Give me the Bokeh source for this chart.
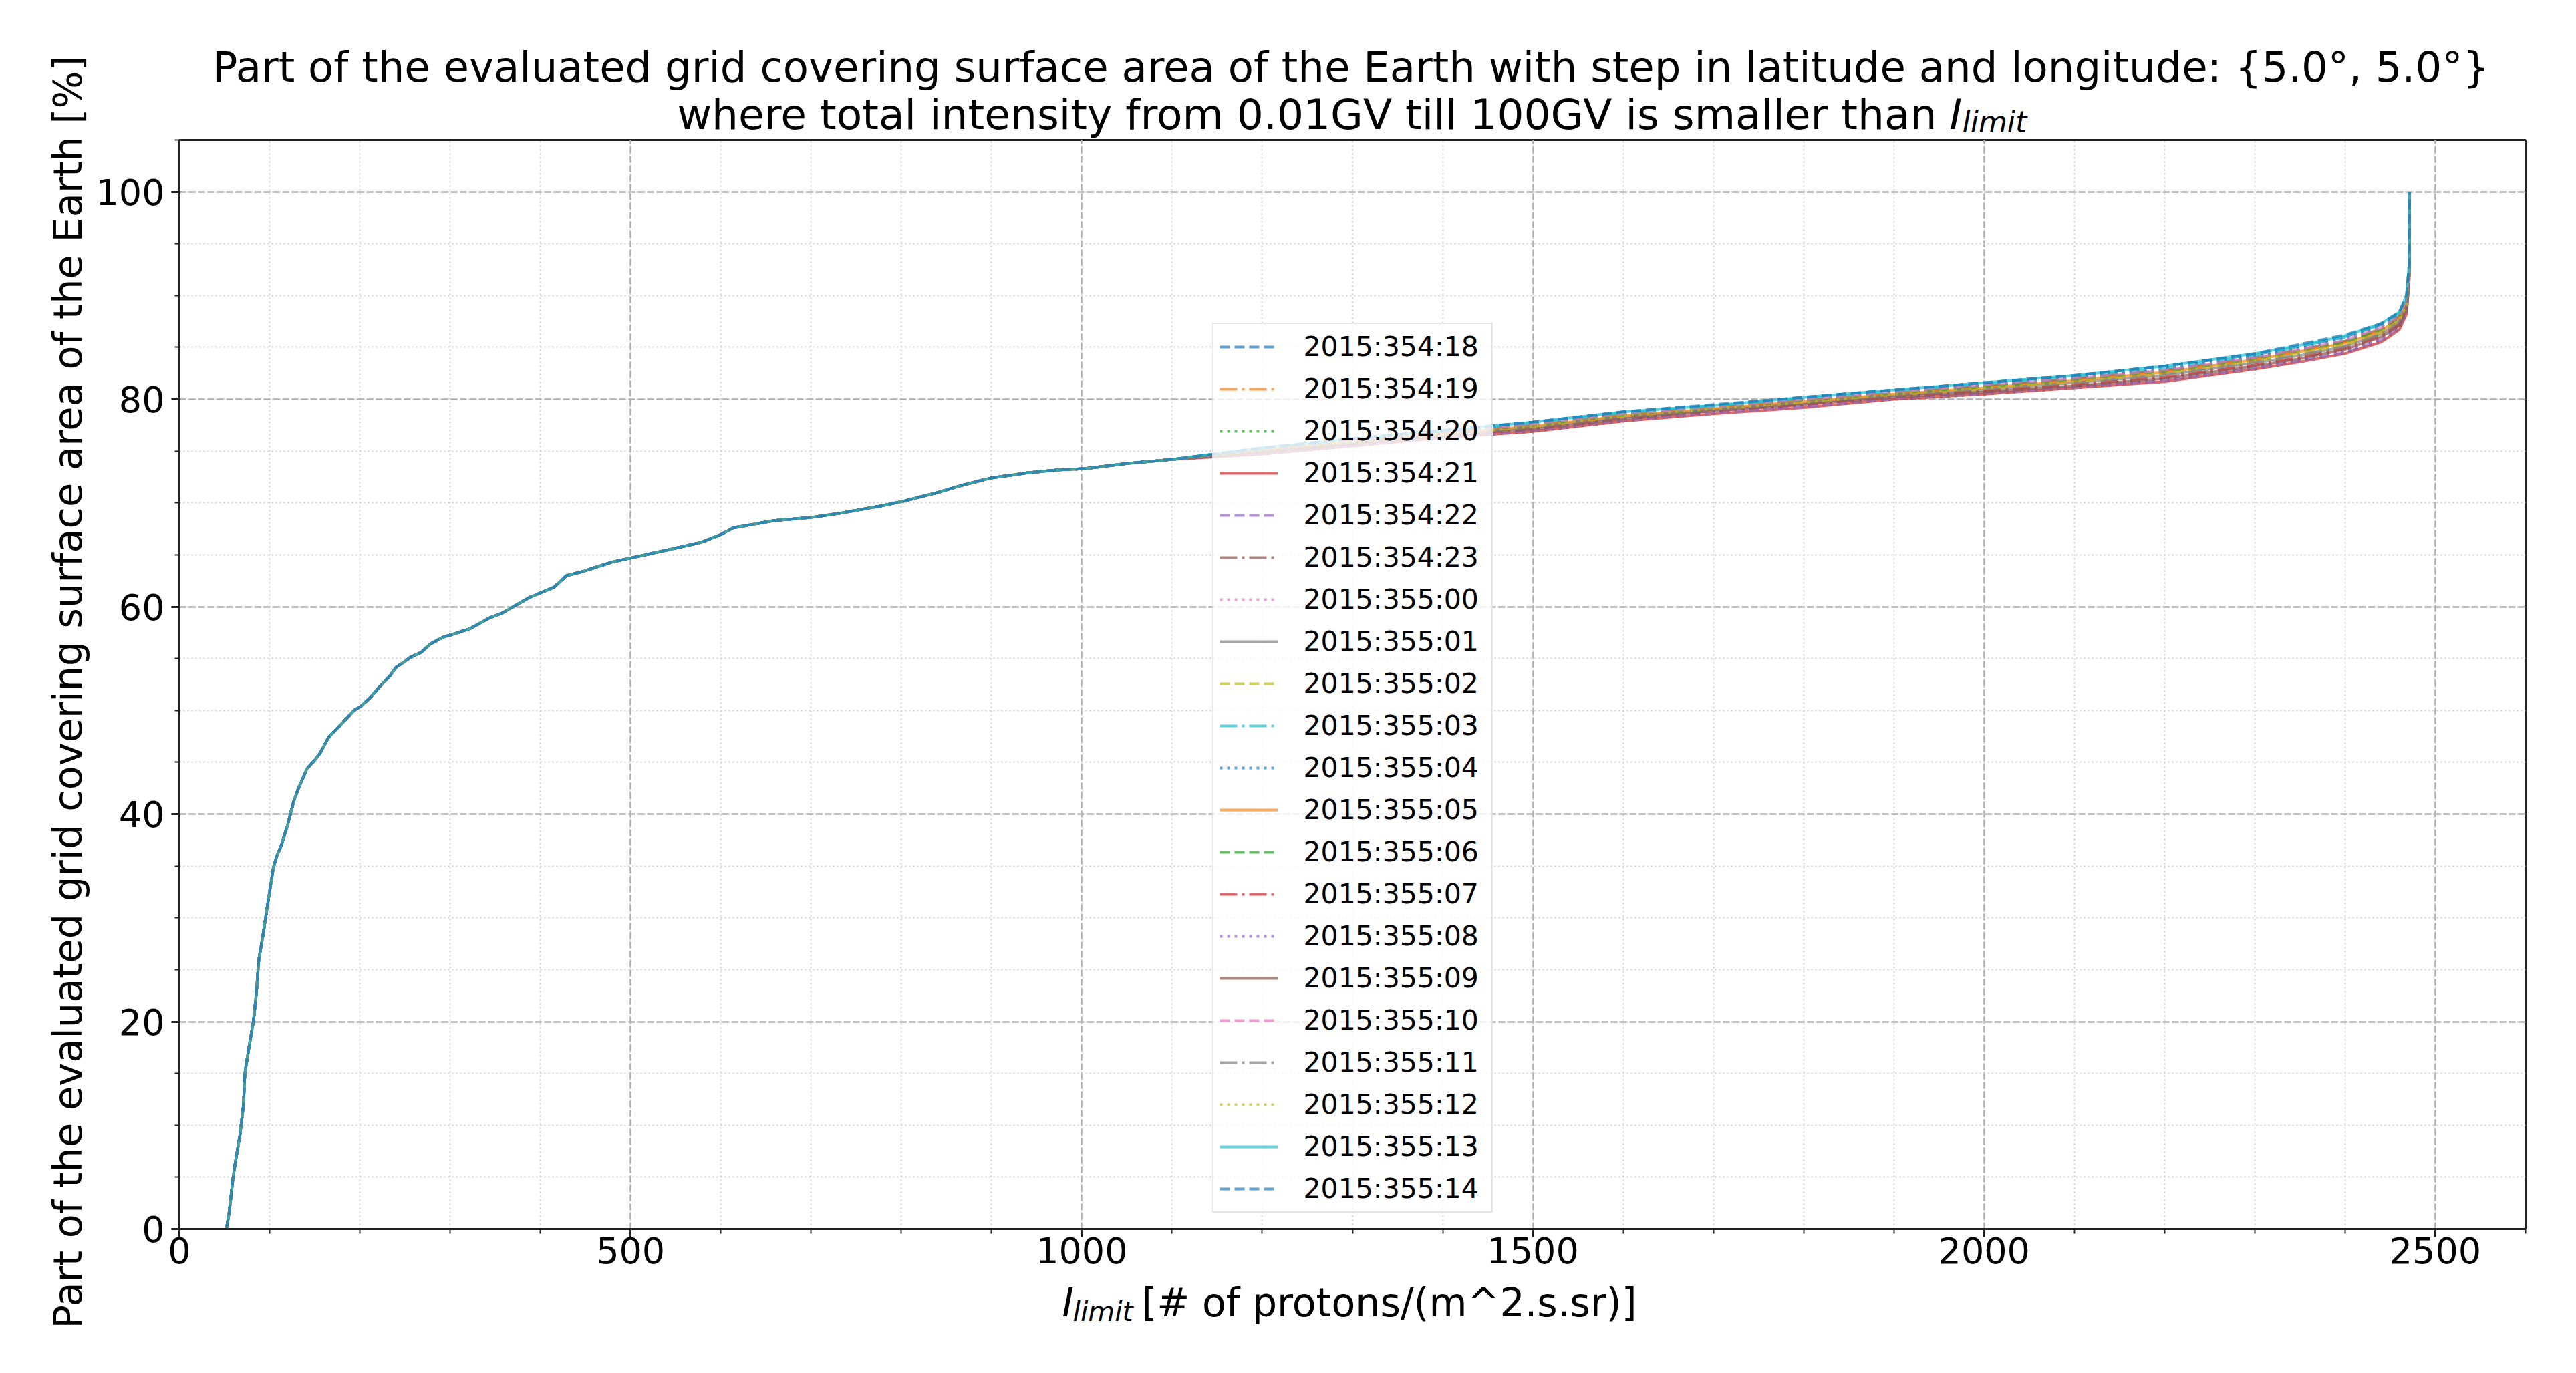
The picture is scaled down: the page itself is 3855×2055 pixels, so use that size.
import math
from bokeh.plotting import figure
from bokeh.layouts import column, row
from bokeh.models import Range1d, Label, SingleIntervalTicker
from bokeh.embed import file_html
from bokeh.resources import INLINE

# ---------------- data ----------------
series_labels = [
    "2015:354:18", "2015:354:19", "2015:354:20", "2015:354:21", "2015:354:22",
    "2015:354:23", "2015:355:00", "2015:355:01", "2015:355:02", "2015:355:03",
    "2015:355:04", "2015:355:05", "2015:355:06", "2015:355:07", "2015:355:08",
    "2015:355:09", "2015:355:10", "2015:355:11", "2015:355:12", "2015:355:13",
    "2015:355:14",
]

# shared part of the curves (all series coincide here)
x_head = [52, 55, 59.5, 63, 67, 71, 72.5, 77, 82, 85.5,
          88, 92, 95.5, 99, 104, 108, 113, 120, 126.5, 131.5,
          137, 141.5, 149, 156, 166, 178.5, 193.5, 201, 211, 223,
          233, 240.5, 248, 255.5, 268, 278, 293, 301.5, 322.5, 343,
          358, 370, 388, 415.5, 429, 447, 479, 500, 542, 578,
          598.5, 614, 659, 700, 731.5, 777, 804, 840, 867, 899,
          939.5, 975.5, 1002.5, 1050, 1100]
y_head = [0, 1.5, 5, 7, 9, 12, 15, 17.5, 20, 23,
          26, 28, 30, 32, 34.8, 36, 37, 39, 41.2, 42.4,
          43.5, 44.4, 45.1, 45.9, 47.5, 48.6, 50, 50.4, 51.2, 52.4,
          53.3, 54.2, 54.6, 55.1, 55.6, 56.4, 57.1, 57.3, 57.9, 58.9,
          59.4, 60, 60.9, 61.9, 63, 63.4, 64.3, 64.7, 65.5, 66.2,
          66.9, 67.6, 68.3, 68.6, 69, 69.7, 70.2, 71, 71.7, 72.4,
          72.9, 73.2, 73.3, 73.8, 74.2]

# part where the series separate
x_tail = [1200, 1300, 1400, 1500, 1600, 1700, 1800, 1900, 2000, 2100,
          2200, 2300, 2350, 2400, 2440, 2460, 2468, 2471]
x_end = 2471.5
y_end = 100

t_354_18 = [75.3, 76.2, 77.0, 77.8, 78.8, 79.4, 80.2, 80.9, 81.6, 82.3, 83.2, 84.3, 85.1, 86.0, 87.2, 88.3, 89.9, 93.0]
t_354_19 = [75.1, 75.9, 76.7, 77.4, 78.4, 79.1, 79.8, 80.5, 81.2, 81.9, 82.7, 83.8, 84.6, 85.5, 86.6, 87.9, 89.4, 92.4]
t_354_20 = [74.7, 75.5, 76.3, 76.9, 77.9, 78.7, 79.3, 80.0, 80.5, 81.1, 81.8, 82.9, 83.7, 84.5, 85.6, 86.8, 88.3, 91.6]
t_354_21 = [74.7, 75.5, 76.3, 76.9, 77.9, 78.6, 79.2, 80.0, 80.5, 81.1, 81.7, 82.9, 83.6, 84.4, 85.5, 86.7, 88.2, 91.5]
t_354_22 = [74.8, 75.5, 76.3, 77.0, 78.0, 78.7, 79.3, 80.1, 80.6, 81.2, 81.8, 83.0, 83.7, 84.5, 85.7, 86.9, 88.4, 91.6]
t_354_23 = [75.2, 76.0, 76.8, 77.5, 78.5, 79.2, 79.9, 80.6, 81.3, 82.0, 82.8, 84.0, 84.8, 85.6, 86.8, 88.0, 89.5, 92.6]
t_355_00 = [74.8, 75.6, 76.4, 77.1, 78.1, 78.8, 79.4, 80.2, 80.7, 81.3, 82.0, 83.2, 83.9, 84.7, 85.9, 87.1, 88.6, 91.8]
t_355_01 = [75.0, 75.8, 76.6, 77.3, 78.3, 79.0, 79.6, 80.4, 80.9, 81.6, 82.3, 83.5, 84.2, 85.1, 86.3, 87.4, 88.9, 92.1]
t_355_02 = [75.0, 75.9, 76.6, 77.3, 78.3, 79.0, 79.7, 80.4, 81.0, 81.7, 82.5, 83.7, 84.4, 85.2, 86.4, 87.6, 89.1, 92.2]
t_355_03 = [75.3, 76.1, 76.9, 77.7, 78.7, 79.4, 80.1, 80.8, 81.5, 82.2, 83.0, 84.2, 85.1, 86.0, 87.2, 88.3, 89.8, 92.8]
t_355_04 = [75.2, 76.1, 76.9, 77.6, 78.6, 79.3, 80.0, 80.7, 81.4, 82.1, 82.9, 84.1, 84.9, 85.8, 87.0, 88.1, 89.6, 92.7]
t_355_05 = [75.1, 75.9, 76.7, 77.4, 78.4, 79.1, 79.8, 80.5, 81.1, 81.8, 82.6, 83.8, 84.6, 85.4, 86.6, 87.8, 89.3, 92.3]
t_355_06 = [75.1, 76.0, 76.7, 77.5, 78.5, 79.1, 79.9, 80.6, 81.2, 81.9, 82.7, 83.9, 84.7, 85.5, 86.7, 87.9, 89.4, 92.5]
t_355_07 = [74.9, 75.7, 76.5, 77.2, 78.2, 78.9, 79.5, 80.3, 80.8, 81.4, 82.1, 83.3, 84.0, 84.9, 86.1, 87.2, 88.7, 91.9]
t_355_08 = [74.8, 75.6, 76.4, 77.0, 78.0, 78.8, 79.3, 80.1, 80.6, 81.2, 81.9, 83.1, 83.8, 84.6, 85.8, 87.0, 88.5, 91.7]
t_355_09 = [74.9, 75.7, 76.5, 77.1, 78.1, 78.9, 79.5, 80.2, 80.7, 81.3, 82.0, 83.2, 83.9, 84.8, 86.0, 87.1, 88.6, 91.8]
t_355_10 = [75.2, 76.0, 76.8, 77.6, 78.6, 79.2, 80.0, 80.7, 81.4, 82.0, 82.8, 84.0, 84.8, 85.7, 86.9, 88.0, 89.5, 92.6]
t_355_11 = [75.0, 75.8, 76.6, 77.3, 78.3, 79.0, 79.7, 80.4, 81.0, 81.6, 82.4, 83.6, 84.3, 85.1, 86.3, 87.5, 89.0, 92.1]
t_355_12 = [75.1, 75.9, 76.6, 77.4, 78.4, 79.1, 79.7, 80.5, 81.1, 81.7, 82.5, 83.7, 84.5, 85.3, 86.5, 87.6, 89.1, 92.3]
t_355_13 = [75.3, 76.2, 77.0, 77.8, 78.8, 79.4, 80.2, 80.9, 81.6, 82.3, 83.2, 84.4, 85.2, 86.1, 87.3, 88.4, 90.0, 93.0]
t_355_14 = [75.3, 76.2, 77.0, 77.8, 78.8, 79.5, 80.2, 80.9, 81.6, 82.3, 83.2, 84.4, 85.3, 86.2, 87.3, 88.4, 90.0, 93.0]

series_tails = [t_354_18, t_354_19, t_354_20, t_354_21, t_354_22, t_354_23,
                t_355_00, t_355_01, t_355_02, t_355_03, t_355_04, t_355_05,
                t_355_06, t_355_07, t_355_08, t_355_09, t_355_10, t_355_11,
                t_355_12, t_355_13, t_355_14]

x_ticks_interval = 500
y_ticks_interval = 20

title_line1 = "Part of the evaluated grid covering surface area of the Earth with step in latitude and longitude: {5.0\u00b0, 5.0\u00b0}"
title_line2 = "where total intensity from 0.01GV till 100GV is smaller than"
ylabel_text = "Part of the evaluated grid covering surface area of the Earth  [%]"
xlabel_text = "[# of protons/(m^2.s.sr)]"
sym_main = "I"
sym_sub = "limit"

# ---------------- style / layout ----------------
palette = ["#1f77b4", "#ff7f0e", "#2ca02c", "#d62728", "#9467bd",
           "#8c564b", "#e377c2", "#7f7f7f", "#bcbd22", "#17becf"]
dashes = ["15 7", "26 7 4 7", "4 7", "solid"]
FONT = "DejaVu Sans"

TOTAL_W, TOTAL_H = 3839, 2039
LW = 140                         # left strip holding the y label
FRAME_L, FRAME_W, FRAME_H = 268, 3511, 1630
CW = TOTAL_W - LW                # width of the right column
BL = FRAME_L - LW                # main plot left border
BR = CW - BL - FRAME_W
TOP_H = 208
MAIN_TOP = 1
MAIN_BOTTOM = 76
MAIN_H = MAIN_TOP + FRAME_H + MAIN_BOTTOM
BOT_H = TOTAL_H - TOP_H - MAIN_H
XMAX, YMAX = 2600, 105
MID = 0.346                      # baseline offset below the middle of a line, in em


def xd(sx):
    """screen x (page pixels) -> data x of the main plot"""
    return (sx - FRAME_L) / FRAME_W * XMAX


def strip(width, height, xr, bl=0, br=0):
    f = figure(width=width, height=height, output_backend="svg", toolbar_location=None,
               x_range=xr, y_range=Range1d(0, height),
               x_axis_type=None, y_axis_type=None,
               min_border=0, min_border_left=bl, min_border_right=br,
               min_border_top=0, min_border_bottom=0)
    f.outline_line_color = None
    f.grid.visible = False
    return f


def add_text(f, x, y, text, size, style="normal", align="left", angle=0.0):
    f.add_layout(Label(x=x, y=y, text=text, text_font=FONT, text_font_size=f"{size}px",
                       text_font_style=style, text_align=align, angle=angle,
                       text_baseline="middle", text_color="black"))


# ---------------- title strip ----------------
top = strip(CW, TOP_H, Range1d(0, XMAX), BL, BR)
T1, T2, TS = 62.5, 63, 44
add_text(top, xd(2021), TOP_H - (122 - MID * T1), title_line1, T1, align="center")
add_text(top, xd(2898), TOP_H - (193 - MID * T2), title_line2, T2, align="right")
add_text(top, xd(2917), TOP_H - (193 - MID * T2), sym_main, T2, style="italic")
add_text(top, xd(2936), TOP_H - (197.5 - MID * TS), sym_sub, TS, style="italic")

# ---------------- main plot ----------------
p = figure(width=CW, height=MAIN_H, output_backend="svg", toolbar_location=None,
           x_range=Range1d(0, XMAX), y_range=Range1d(0, YMAX),
           min_border_left=BL, min_border_right=BR,
           min_border_top=MAIN_TOP, min_border_bottom=MAIN_BOTTOM)

for i, (lab, tail) in enumerate(zip(series_labels, series_tails)):
    xs = x_head + x_tail + [x_end]
    ys = y_head + tail + [y_end]
    p.line(xs, ys, line_color=palette[i % 10], line_alpha=0.7, line_width=4,
           line_dash=dashes[i % 4], legend_label=lab)

p.xaxis.ticker = SingleIntervalTicker(interval=x_ticks_interval, num_minor_ticks=5)
p.yaxis.ticker = SingleIntervalTicker(interval=y_ticks_interval, num_minor_ticks=4)
for ax in (p.xaxis, p.yaxis):
    ax.major_label_text_font = FONT
    ax.major_label_text_font_size = "54px"
    ax.major_label_text_color = "black"
    ax.axis_line_width = 3
    ax.axis_line_color = "#222222"
    ax.major_tick_line_width = 3
    ax.major_tick_line_color = "#222222"
    ax.minor_tick_line_width = 2
    ax.minor_tick_line_color = "#222222"
    ax.major_tick_out = 12
    ax.major_tick_in = 0
    ax.minor_tick_out = 7
    ax.minor_tick_in = 0
p.xaxis.major_label_standoff = 0
p.yaxis.major_label_standoff = 10

p.outline_line_color = "#222222"
p.outline_line_width = 3

for g in (p.xgrid, p.ygrid):
    g.grid_line_color = "#b0b0b0"
    g.grid_line_width = 2.5
    g.grid_line_dash = "10 4"
    g.minor_grid_line_color = "#d0d0d0"
    g.minor_grid_line_width = 2
    g.minor_grid_line_dash = "2 4"

lg = p.legend[0]
lg.location = "bottom_center"
lg.margin = 24
lg.label_text_font = FONT
lg.label_text_font_size = "41px"
lg.label_text_color = "black"
lg.glyph_width = 87
lg.glyph_height = 50
lg.label_height = 50
lg.label_width = 272
lg.label_standoff = 39
lg.spacing = 13
lg.padding = 9
lg.border_line_color = "#cccccc"
lg.border_line_width = 2
lg.background_fill_alpha = 0.8

# ---------------- x label strip ----------------
bot = strip(CW, BOT_H, Range1d(0, XMAX), BL, BR)
bot_top = TOP_H + MAIN_H
XL, XS = 58.5, 41
add_text(bot, xd(1589), BOT_H - (1970 - MID * XL - bot_top), sym_main, XL, style="italic")
add_text(bot, xd(1605), BOT_H - (1977 - MID * XS - bot_top), sym_sub, XS, style="italic")
add_text(bot, xd(1708), BOT_H - (1970 - MID * XL - bot_top), xlabel_text, XL)

# ---------------- y label strip ----------------
left = strip(LW, TOTAL_H, Range1d(0, LW))
YL = 59
add_text(left, 121 - MID * YL, TOTAL_H - 1026, ylabel_text, YL, align="center",
         angle=math.pi / 2)

layout = row(left, column(top, p, bot, spacing=0), spacing=0)
open("out.html", "w").write(file_html(layout, INLINE))
